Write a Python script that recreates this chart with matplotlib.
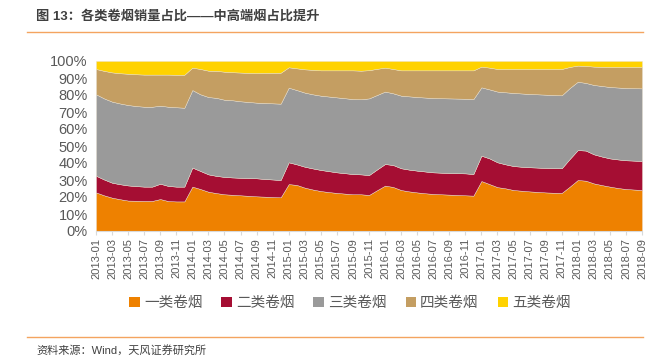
import numpy as np
import matplotlib
matplotlib.use("Agg")
from matplotlib import pyplot as plt
from matplotlib.patches import Patch

plt.rcParams['font.family'] = ['Liberation Sans', 'Noto Sans CJK SC', 'DejaVu Sans']

months = [f"{y}-{m:02d}" for y in range(2013, 2019) for m in range(1, 13)][:69]

# share of each class, %
class1 = [22.7, 21.0, 19.6, 18.7, 17.9, 17.8, 17.7, 17.7, 18.8, 17.6, 17.4, 17.4,
          26.1, 24.7, 23.1, 22.3, 21.6, 21.3, 21.0, 20.7, 20.4, 20.2, 20.0, 19.8,
          27.6, 27.1, 25.5, 24.4, 23.5, 22.9, 22.4, 22.0, 21.6, 21.6, 21.2, 24.0,
          26.7, 25.9, 24.1, 23.3, 22.7, 22.2, 21.8, 21.6, 21.4, 21.2, 21.0, 20.8,
          29.4, 27.6, 25.8, 25.1, 24.1, 23.7, 23.3, 23.0, 22.7, 22.5, 22.4, 26.1,
          30.0, 29.6, 28.0, 27.0, 26.1, 25.3, 24.7, 24.4, 24.1]
class2 = [9.8, 9.3, 8.8, 8.8, 8.9, 8.6, 8.4, 8.4, 9.0, 8.9, 8.7, 8.7,
          11.2, 10.6, 10.2, 10.1, 10.2, 10.2, 10.3, 10.4, 10.6, 10.4, 10.3, 10.2,
          12.8, 12.1, 12.3, 12.4, 12.4, 12.3, 12.1, 12.0, 11.9, 11.7, 11.7, 12.2,
          12.7, 12.9, 12.8, 12.8, 12.8, 12.8, 12.7, 12.7, 12.7, 12.8, 12.9, 12.7,
          14.9, 15.1, 14.6, 14.1, 14.1, 14.1, 14.2, 14.3, 14.4, 14.5, 14.5, 16.3,
          17.6, 17.7, 17.1, 16.8, 16.6, 16.8, 16.9, 17.0, 17.1]
class3 = [47.9, 47.7, 47.7, 47.5, 47.3, 47.1, 47.0, 47.0, 45.9, 46.6, 46.7, 46.4,
          45.6, 45.1, 45.5, 45.9, 45.4, 45.4, 45.0, 44.8, 44.5, 44.7, 44.8, 44.9,
          43.9, 43.7, 43.6, 43.6, 43.7, 43.9, 44.1, 44.1, 44.1, 44.2, 45.1, 43.8,
          42.6, 42.2, 42.7, 43.1, 43.3, 43.5, 43.7, 43.8, 43.9, 43.9, 43.9, 44.1,
          40.2, 40.6, 41.6, 42.4, 43.0, 43.1, 43.1, 43.1, 43.1, 43.0, 42.9, 41.7,
          40.2, 39.8, 40.8, 41.5, 42.0, 42.3, 42.5, 42.6, 42.7]
class4 = [14.9, 16.2, 17.2, 17.8, 18.4, 18.7, 18.9, 18.9, 18.3, 18.9, 19.1, 19.4,
          13.2, 14.9, 15.5, 15.9, 16.5, 16.5, 16.9, 17.1, 17.4, 17.7, 17.9, 18.2,
          12.0, 12.8, 13.7, 14.4, 14.9, 15.4, 15.9, 16.4, 16.9, 16.8, 16.6, 15.4,
          14.1, 14.3, 14.9, 15.3, 15.7, 16.0, 16.3, 16.4, 16.5, 16.6, 16.7, 16.9,
          12.2, 12.8, 13.3, 13.7, 14.1, 14.4, 14.7, 14.9, 15.1, 15.3, 15.5, 12.4,
          9.5, 10.0, 10.8, 11.3, 11.8, 12.1, 12.4, 12.5, 12.6]
class5 = [4.7, 5.8, 6.7, 7.2, 7.5, 7.8, 8.0, 8.0, 8.0, 8.0, 8.1, 8.1,
          3.9, 4.7, 5.7, 5.8, 6.3, 6.6, 6.8, 7.0, 7.1, 7.0, 7.0, 6.9,
          3.7, 4.3, 4.9, 5.2, 5.5, 5.5, 5.5, 5.5, 5.5, 5.7, 5.4, 4.6,
          3.9, 4.7, 5.5, 5.5, 5.5, 5.5, 5.5, 5.5, 5.5, 5.5, 5.5, 5.5,
          3.3, 3.9, 4.7, 4.7, 4.7, 4.7, 4.7, 4.7, 4.7, 4.7, 4.7, 3.5,
          2.7, 2.9, 3.3, 3.4, 3.5, 3.5, 3.5, 3.5, 3.5]

names = ['一类卷烟', '二类卷烟', '三类卷烟', '四类卷烟', '五类卷烟']
colors = ['#EE8100', '#A50E33', '#9A9A9A', '#C49E62', '#FFD200']

fig = plt.figure(figsize=(6.59, 3.58), dpi=100)
ax = fig.add_axes([96/659, 1-231/358, 546/659, 170/358])

x = np.arange(len(months))
ax.stackplot(x, class1, class2, class3, class4, class5, colors=colors,
             edgecolor='#E8E0D0', linewidth=0.3)

ax.set_xlim(0, len(months) - 1)
ax.set_ylim(0, 100)
ax.set_yticks(np.arange(0, 101, 10))
ax.set_yticklabels([f'{v}%' for v in range(0, 101, 10)], fontsize=10.5, color='#595959')
ax.set_xticks(x[::2])
ax.set_xticklabels(months[::2], rotation=90, fontsize=8, color='#595959')
ax.tick_params(axis='y', length=0, pad=6)
ax.tick_params(axis='x', length=3, color='#D9D9D9', pad=2)
for s in ['top', 'right', 'left']:
    ax.spines[s].set_visible(False)
ax.spines['bottom'].set_color('#D9D9D9')

handles = [Patch(facecolor=c, edgecolor='none') for c in colors]
fig.legend(handles, names, loc='center', bbox_to_anchor=(350/659, 1-303/358), ncol=5,
           frameon=False, fontsize=10.5, handlelength=0.7, handleheight=0.7,
           handletextpad=0.3, columnspacing=1.3, labelcolor='#595959')

fig.text(36/659, 1-16/358, '图 13：各类卷烟销量占比——中高端烟占比提升', fontsize=9.5,
         fontweight='bold', color='#404040', va='center', ha='left')
fig.text(36/659, 1-350/358, '资料来源：Wind，天风证券研究所', fontsize=8,
         color='#404040', va='center', ha='left')
fig.add_artist(plt.Line2D([27/659, 643/659], [1-32/358, 1-32/358], color='#F4A460', lw=1))
fig.add_artist(plt.Line2D([27/659, 643/659], [1-337/358, 1-337/358], color='#F4A460', lw=1))

fig.savefig('out.png', dpi=100)
